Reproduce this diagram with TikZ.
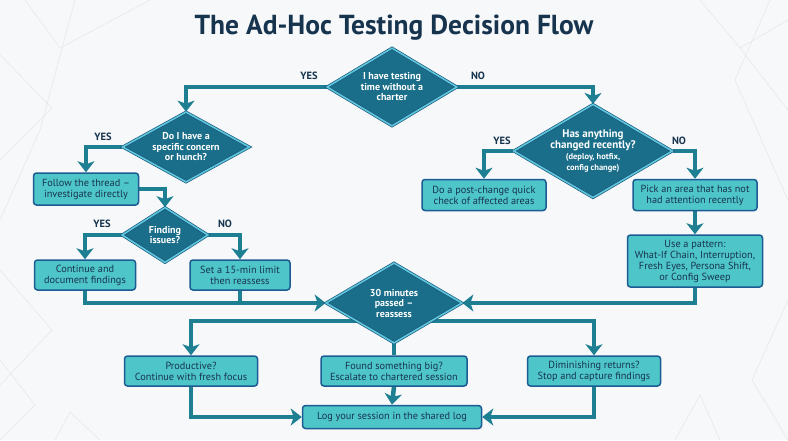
\documentclass[tikz,border=0pt]{standalone}
\usepackage{fontspec}
\setmainfont{PT Sans}
\usetikzlibrary{arrows.meta, shapes.geometric, backgrounds}

\definecolor{pagebg}{HTML}{F6F8F9}
\definecolor{navy}{HTML}{17344F}
\definecolor{flowteal}{HTML}{1E7F92}
\definecolor{boxfill}{HTML}{4EC5C9}
\definecolor{boxline}{HTML}{1C5C93}
\definecolor{diafill}{HTML}{1A6E8A}
\definecolor{dialine}{HTML}{1A5980}
\definecolor{diaglow}{HTML}{5EC7DA}

\begin{document}
\begin{tikzpicture}[
    x=1pt, y=-1pt,
    >={Stealth[length=11pt, width=17pt, inset=3pt]},
    stepbox/.style={draw=boxline, line width=1.5pt, fill=boxfill, rounded corners=3pt,
        text=navy, font=\fontsize{10.3}{11}\selectfont, align=center, inner sep=2pt},
    decision/.style={diamond, draw=dialine, line width=0.7pt, double=diaglow, double distance=1.6pt,
        fill=diafill, text=white, font=\bfseries\fontsize{10}{10.5}\selectfont, align=center,
        inner sep=0pt, aspect=1.7},
    lbl/.style={text=navy, font=\bfseries\fontsize{10.5}{12}\selectfont},
    flow/.style={draw=flowteal, line width=4.5pt}
]

% Page and bounding box
\useasboundingbox (0,0) rectangle (788,440);

% Title
\node[text=navy, font=\bfseries\fontsize{27.5}{32}\selectfont] (title) at (394,28) {The Ad-Hoc Testing Decision Flow};

% Decisions
\node[decision, minimum width=130pt, minimum height=78pt] (start) at (392,87) {I have testing\\time without a\\charter};
\node[decision, minimum width=127pt, minimum height=70pt] (hunch) at (186,147) {Do I have a\\specific concern\\or hunch?};
\node[decision, minimum width=86pt, minimum height=55pt] (issues) at (165,235) {Finding\\issues?};
\node[decision, minimum width=140pt, minimum height=84pt, font=\bfseries\fontsize{11}{11.5}\selectfont] (changed) at (593,151)
    {Has anything\\changed recently?\\[-1pt]{\fontsize{8.5}{9}\selectfont(deploy, hotfix,}\\{\fontsize{8.5}{9}\selectfont config change)}};
\node[decision, minimum width=136pt, minimum height=80pt] (reassess) at (394,303) {30 minutes\\passed --\\reassess};

% Steps
\node[stepbox, minimum width=105pt, minimum height=32pt] (thread) at (86,189) {Follow the thread --\\investigate directly};
\node[stepbox, minimum width=101pt, minimum height=30pt] (document) at (85,275) {Continue and\\document findings};
\node[stepbox, minimum width=100pt, minimum height=30pt] (limit) at (240,275) {Set a 15-min limit\\then reassess};
\node[stepbox, minimum width=124pt, minimum height=31pt] (postcheck) at (484,195) {Do a post-change quick\\check of affected areas};
\node[stepbox, minimum width=124pt, minimum height=31pt] (pickarea) at (695,195) {Pick an area that has not\\had attention recently};
\node[stepbox, minimum width=135pt, minimum height=52pt] (pattern) at (695,261)
    {Use a pattern:\\What-If Chain, Interruption,\\Fresh Eyes, Persona Shift,\\or Config Sweep};
\node[stepbox, minimum width=133pt, minimum height=30pt] (productive) at (191,371) {Productive?\\Continue with fresh focus};
\node[stepbox, minimum width=146pt, minimum height=30pt] (escalate) at (394,371) {Found something big?\\Escalate to chartered session};
\node[stepbox, minimum width=133pt, minimum height=30pt] (diminish) at (594,371) {Diminishing returns?\\Stop and capture findings};
\node[stepbox, minimum width=179pt, minimum height=23pt] (logbook) at (392,417) {Log your session in the shared log};

% Branch labels
\node[lbl] (yesstart) at (309,76) {YES};
\node[lbl] (nostart) at (478,76) {NO};
\node[lbl] (yeshunch) at (103,137) {YES};
\node[lbl] (yesissues) at (102,224) {YES};
\node[lbl] (noissues) at (225,224) {NO};
\node[lbl] (yeschanged) at (502,141) {YES};
\node[lbl] (nochanged) at (679,141) {NO};

\coordinate (fork) at (394,321);

\begin{scope}[on background layer]
    % Background with faint lines
    \fill[pagebg] (0,0) rectangle (788,440);
    \draw[gray!18, line width=0.6pt] (25,0) -- (60,48) -- (150,0)
        (75,0) -- (40,130) -- (0,220)
        (0,55) -- (52,108) -- (0,160)
        (0,270) -- (52,330) -- (0,385)
        (0,360) -- (35,405) -- (0,440)
        (55,440) -- (70,412) -- (100,440)
        (700,0) -- (740,48) -- (788,20)
        (740,48) -- (788,110)
        (770,0) -- (735,80) -- (788,200)
        (788,300) -- (752,380) -- (788,440)
        (720,440) -- (700,395) -- (675,440);

    % Top split
    \draw[flow, ->] (start.west) -| (hunch.north);
    \draw[flow, ->] (start.east) -| (changed.north);

    % Left branch
    \draw[flow, ->] (hunch.west) -| (thread.north);
    \draw[flow, ->] (thread.east) -| (issues.north);
    \draw[flow, ->] (issues.west) -| (document.north);
    \draw[flow, ->] (issues.east) -| (limit.north);
    \draw[flow, ->] (document.south) |- (reassess.west);
    \draw[flow] (limit.south) -- (limit.south |- reassess.west);

    % Right branch
    \draw[flow, ->] (changed.west) -| (postcheck.north);
    \draw[flow, ->] (changed.east) -| (pickarea.north);
    \draw[flow, ->] (pickarea.south) -- (pattern.north);
    \draw[flow, ->] (pattern.south) |- (reassess.east);

    % Reassess outcomes
    \draw[flow, ->] (fork) -| (productive.north);
    \draw[flow, ->] (fork) -| (diminish.north);
    \draw[flow] (reassess.south) -- (escalate.north);
    \draw[flow, ->] (escalate.south) -- (logbook.north);
    \draw[flow, ->] (productive.south) |- (logbook.west);
    \draw[flow, ->] (diminish.south) |- (logbook.east);
\end{scope}

\end{tikzpicture}
\end{document}
